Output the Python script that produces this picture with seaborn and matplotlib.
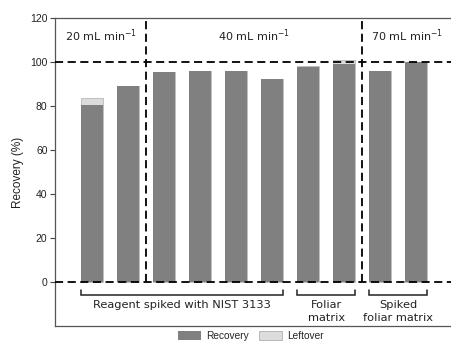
import matplotlib
matplotlib.use("Agg")
import matplotlib.pyplot as plt
from matplotlib.patches import Patch
import seaborn as sns
import pandas as pd

# Recovery and leftover (%) for each extraction run
samples = ["1", "2", "3", "4", "5", "6", "7", "8", "9", "10"]
recovery = [80.5, 89.0, 95.6, 96.0, 96.0, 92.1, 97.5, 99.0, 95.9, 100.0]
leftover = [3.1, 0.0, 0.0, 0.0, 0.0, 0.0, 0.8, 1.8, 0.0, 0.0]

flow_labels = [r"20 mL min$^{-1}$", r"40 mL min$^{-1}$", r"70 mL min$^{-1}$"]
group_labels = ["Reagent spiked with NIST 3133", "Foliar\nmatrix", "Spiked\nfoliar matrix"]
group_members = [(0, 5), (6, 7), (8, 9)]
flow_breaks = [1.5, 7.5]

dark = "#808080"
light = "#dcdcdc"

df = pd.DataFrame({
    "sample": samples,
    "recovery": recovery,
    "total": [r + l for r, l in zip(recovery, leftover)],
})

sns.set_style("white")
plt.rcParams["font.family"] = ["Liberation Sans", "DejaVu Sans"]

fig = plt.figure(figsize=(4.52, 3.45), dpi=100)
ax = fig.add_axes([0.122, 0.055, 0.878, 0.893])

bar_w = 0.61
sns.barplot(data=df, x="sample", y="total", color=light, width=bar_w,
            saturation=1, edgecolor="#b8b8b8", linewidth=0.6, ax=ax)
sns.barplot(data=df, x="sample", y="recovery", color=dark, width=bar_w,
            saturation=1, edgecolor="none", linewidth=0, ax=ax)

ax.set_xlim(-1.03, 10.0)
ax.set_ylim(-20, 120)
ax.set_yticks([0, 20, 40, 60, 80, 100, 120])
ax.tick_params(axis="y", labelsize=7.5, length=3.5, width=0.8,
               left=True, color="#444444", pad=2, labelcolor="#222222")
ax.set_xticks([])
ax.set_xlabel("")
ax.set_ylabel("Recovery (%)", fontsize=8.5, color="#222222", labelpad=4)

for side in ["left", "top", "bottom"]:
    ax.spines[side].set_color("#555555")
    ax.spines[side].set_linewidth(0.9)
ax.spines["right"].set_visible(False)

dash = dict(color="black", lw=1.3, linestyle=(0, (4.5, 2.5)))
ax.axhline(100, **dash, zorder=3)
ax.axhline(0, **dash, zorder=3)
for xb in flow_breaks:
    ax.plot([xb, xb], [0, 120], **dash, zorder=3)

# Flow-rate labels for each section
edges = [-1.03, 1.5, 7.5, 10.0]
for i, lab in enumerate(flow_labels):
    ax.text((edges[i] + edges[i + 1]) / 2, 112, lab, ha="center", va="center",
            fontsize=8, family="DejaVu Sans", color="#222222")

# Sample-group brackets below the zero line
for (a, b), lab in zip(group_members, group_labels):
    x0, x1 = a - bar_w / 2, b + bar_w / 2
    ax.plot([x0, x0, x1, x1], [-3.5, -5.8, -5.8, -3.5], color="#222222",
            lw=1.1, solid_joinstyle="miter")
    ax.text((x0 + x1) / 2, -8.0, lab, ha="center", va="top", fontsize=8.2,
            family="DejaVu Sans", color="#222222", linespacing=1.4)

handles = [Patch(facecolor=dark, edgecolor="none", label="Recovery"),
           Patch(facecolor=light, edgecolor="#b0b0b0", linewidth=0.6, label="Leftover")]
fig.legend(handles=handles, loc="lower center", bbox_to_anchor=(0.555, -0.015),
           ncol=2, frameon=False, fontsize=7.3, handlelength=2.3,
           handleheight=1.0, columnspacing=1.0, handletextpad=0.5)

fig.savefig("out.png", dpi=100)
